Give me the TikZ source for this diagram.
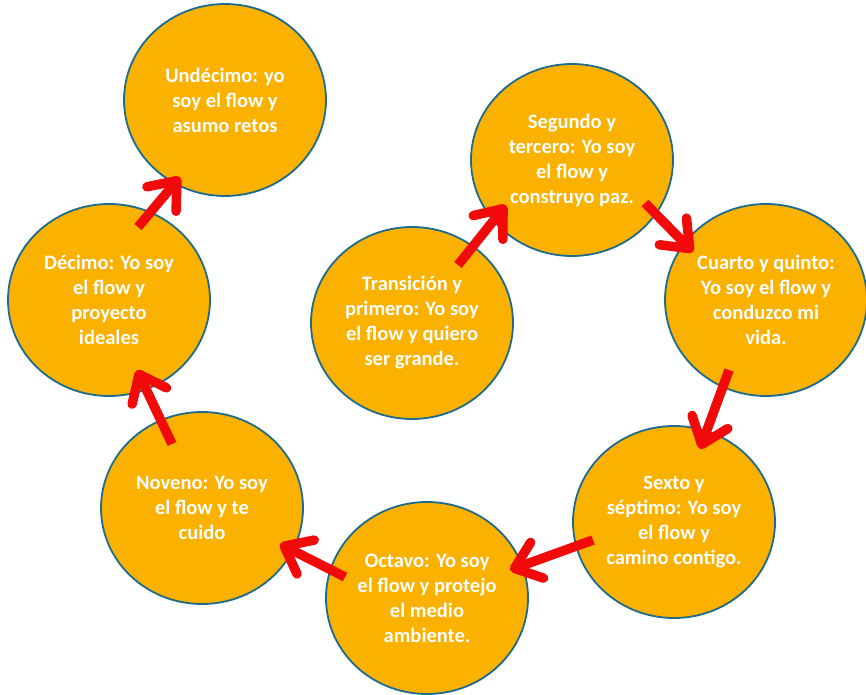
\documentclass[tikz,border=0pt]{standalone}
\usepackage{fontspec}
\setmainfont{Carlito}
\usetikzlibrary{shapes.geometric, arrows.meta, calc}

\definecolor{flowfill}{HTML}{FAB100}
\definecolor{flowline}{HTML}{1E6B8C}
\definecolor{flowred}{HTML}{F00A0A}

\begin{document}
\begin{tikzpicture}[x=1pt, y=1pt,
    every node/.style={ellipse, draw=flowline, line width=1.8pt, fill=flowfill,
        minimum width=202pt, minimum height=192pt, inner sep=0pt,
        text=white, align=center, font=\fontsize{20.5}{25}\selectfont\bfseries},
    flowarrow/.style={draw=flowred, line width=9.5pt,
        -{Straight Barb[length=24pt, width=38pt, round]}}]

    \useasboundingbox (0,0) rectangle (866,694);

    % Grades, in the order of the cycle
    \node (tra) at (412, 371) {Transición y\\primero: Yo soy\\el flow y quiero\\ser grande.};
    \node (seg) at (572, 534) {Segundo y\\tercero: Yo soy\\el flow y\\construyo paz.};
    \node (cua) at (766, 394) {Cuarto y quinto:\\Yo soy el flow y\\conduzco mi\\vida.};
    \node (sex) at (674, 172) {Sexto y\\séptimo: Yo soy\\el flow y\\camino contigo.};
    \node (oct) at (427, 96)  {Octavo: Yo soy\\el flow y protejo\\el medio\\ambiente.};
    \node (nov) at (202, 186) {Noveno: Yo soy\\el flow y te\\cuido};
    \node (dec) at (109, 394) {Décimo: Yo soy\\el flow y\\proyecto\\ideales};
    \node (und) at (225, 594) {Undécimo: yo\\soy el flow y\\asumo retos};

    % Arrows from one grade to the next
    \draw[flowarrow] ($(tra)+(46,58)$) -- ($(seg)+(-66,-45)$);
    \draw[flowarrow] ($(seg)+(73,-43)$) -- ($(cua)+(-73,48)$);
    \draw[flowarrow] ($(cua)+(-37,-70)$) -- ($(sex)+(26,73)$);
    \draw[flowarrow] ($(sex)+(-81,-18)$) -- ($(oct)+(83,28)$);
    \draw[flowarrow] ($(oct)+(-82,21)$) -- ($(nov)+(78,-36)$);
    \draw[flowarrow] ($(nov)+(-30,64)$) -- ($(dec)+(28,-70)$);
    \draw[flowarrow] ($(dec)+(29,73)$) -- ($(und)+(-45,-77)$);
\end{tikzpicture}
\end{document}
